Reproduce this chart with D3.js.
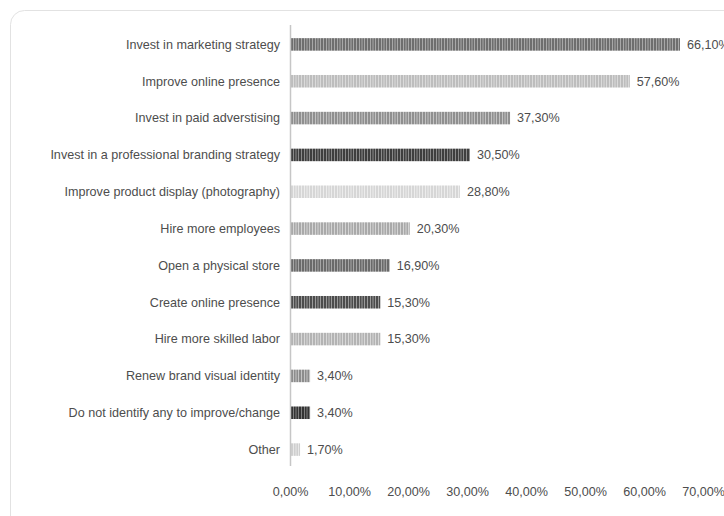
<!DOCTYPE html>
<html><head><meta charset="utf-8">
<script src="https://cdn.jsdelivr.net/npm/d3@7"></script>
<style>body{margin:0;background:#fff}svg{display:block}</style>
</head><body>
<script>
const categories = ["Invest in marketing strategy","Improve online presence","Invest in paid adverstising","Invest in a professional branding strategy","Improve product display (photography)","Hire more employees","Open a physical store","Create online presence","Hire more skilled labor","Renew brand visual identity","Do not identify any to improve/change","Other"];
const values = [66.1,57.6,37.3,30.5,28.8,20.3,16.9,15.3,15.3,3.4,3.4,1.7];
const tickValues = [0,10,20,30,40,50,60,70];

const shades = [["#6e6e6e","#a8a8a8"],["#bdbdbd","#dadada"],["#8f8f8f","#c2c2c2"],["#3e3e3e","#8a8a8a"],["#d6d6d6","#ececec"],["#a9a9a9","#d4d4d4"],["#6a6a6a","#a6a6a6"],["#4c4c4c","#9a9a9a"],["#b3b3b3","#d8d8d8"],["#8c8c8c","#c4c4c4"],["#333333","#7e7e7e"],["#cfcfcf","#e8e8e8"]];

const W=724,H=516;
const svg=d3.select("body").append("svg").attr("width",W).attr("height",H);
svg.append("rect").attr("x",10.5).attr("y",10.5).attr("width",740).attr("height",540).attr("rx",14)
  .attr("fill","#fff").attr("stroke","#e2e2e2");

const defs=svg.append("defs");
shades.forEach((s,i)=>{
  const p=defs.append("pattern").attr("id","p"+i).attr("patternUnits","userSpaceOnUse").attr("width",11).attr("height",20);
  p.append("rect").attr("width",11).attr("height",20).attr("fill",s[1]);
  [[0,1],[2,1],[3,1],[5,2],[8,1],[9.5,1]].forEach(([x,w])=>p.append("rect").attr("x",x).attr("width",w).attr("height",20).attr("fill",s[0]));
});

const x=d3.scaleLinear().domain([0,70]).range([290,703]);
const y=d3.scaleBand().domain(categories).range([26,468]).paddingInner(0.66).paddingOuter(0.33);

const fmt=v=>d3.format(".2f")(v).replace(".",",")+"%";

svg.append("g").selectAll("rect").data(categories).join("rect")
  .attr("x",x(0)+1).attr("y",d=>y(d)).attr("height",y.bandwidth())
  .attr("width",(d,i)=>x(values[i])-x(0)-1).attr("fill",(d,i)=>`url(#p${i})`);

svg.append("line").attr("x1",x(0)+0.5).attr("x2",x(0)+0.5).attr("y1",25).attr("y2",466).attr("stroke","#c6c6c6").attr("stroke-width",1.5);

const font="'Liberation Sans',Arial,sans-serif";
const fs=12.6, col="#4d4d4d";
svg.append("g").selectAll("text").data(categories).join("text")
  .attr("x",280).attr("y",d=>y(d)+y.bandwidth()/2).attr("dy","0.35em").attr("text-anchor","end")
  .attr("font-family",font).attr("font-size",fs).attr("fill",col).text(d=>d);

svg.append("g").selectAll("text").data(categories).join("text")
  .attr("x",(d,i)=>x(values[i])+7).attr("y",d=>y(d)+y.bandwidth()/2).attr("dy","0.35em")
  .attr("font-family",font).attr("font-size",fs).attr("fill",col).text((d,i)=>fmt(values[i]));

const ax=svg.append("g").attr("transform","translate(0,487)")
  .call(d3.axisBottom(x).tickValues(tickValues).tickSize(0).tickPadding(0).tickFormat(fmt));
ax.select(".domain").remove();
ax.selectAll("text").attr("font-family",font).attr("font-size",fs).attr("fill",col).attr("dy","0.71em");
</script>
</body></html>
